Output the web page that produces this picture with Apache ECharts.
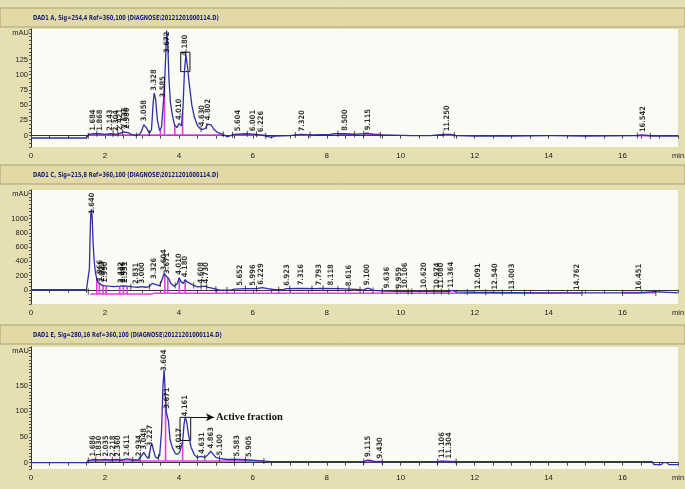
<!DOCTYPE html>
<html>
<head>
<meta charset="utf-8">
<script src="https://cdn.jsdelivr.net/npm/echarts@6/dist/echarts.min.js"></script>
<style>
html, body { margin: 0; padding: 0; background: #e6dfb2; }
#main { width: 685px; height: 489px; }
</style>
</head>
<body>
<div id="main"></div>
<script>
// chromatogram traces, [time (min), signal (mAU)]
var traceA = [[0,-4],[1.5,-4],[1.53,-5],[1.56,2],[1.7,3],[1.85,3],[2.0,2],[2.15,3],[2.3,2],[2.42,4],[2.5,6],[2.55,7],[2.62,5],[2.72,2],[2.85,0],[2.95,3],[3.0,9],[3.05,18],[3.08,20],[3.13,12],[3.2,4],[3.26,10],[3.3,50],[3.33,70],[3.37,60],[3.42,25],[3.48,8],[3.53,14],[3.57,45],[3.6,70],[3.63,110],[3.67,172],[3.7,150],[3.73,95],[3.77,55],[3.82,35],[3.88,18],[3.95,13],[4.0,20],[4.03,22],[4.07,16],[4.11,45],[4.15,105],[4.19,133],[4.23,115],[4.28,85],[4.35,50],[4.42,30],[4.5,17],[4.58,11],[4.65,10],[4.72,12],[4.78,19],[4.83,22],[4.88,17],[4.95,10],[5.05,5],[5.2,2],[5.3,-2],[5.5,2],[5.8,3],[6.1,2],[6.3,0],[6.5,-3],[6.6,-1],[7.0,0],[7.3,2],[7.6,1],[8.1,2],[8.2,3],[8.5,3],[8.7,2],[9.0,3],[9.1,4],[9.3,1],[9.5,1],[10.3,0],[10.8,0],[11.0,1],[11.2,2],[11.35,2],[11.5,0],[12.0,-1],[13.0,-1],[14.0,0],[14.1,0],[15.0,-1],[16.4,0],[16.5,1],[16.7,0],[16.8,-1],[17.5,-1]];
var traceC = [[0,0],[1.5,0],[1.55,-25],[1.58,300],[1.6,800],[1.62,1100],[1.64,1130],[1.66,950],[1.68,650],[1.71,400],[1.74,250],[1.78,150],[1.82,100],[1.87,75],[1.93,60],[2.0,55],[2.1,50],[2.25,45],[2.4,50],[2.5,55],[2.6,50],[2.75,40],[2.9,35],[3.0,45],[3.1,35],[3.2,45],[3.28,90],[3.33,110],[3.4,70],[3.48,55],[3.55,150],[3.6,230],[3.64,200],[3.68,175],[3.72,160],[3.78,90],[3.87,50],[3.95,80],[4.01,170],[4.06,110],[4.12,90],[4.17,140],[4.22,110],[4.3,90],[4.4,60],[4.5,40],[4.6,45],[4.7,50],[4.8,35],[4.95,15],[5.1,-5],[5.4,-5],[5.5,10],[5.8,15],[6.1,15],[6.25,30],[6.4,15],[6.6,0],[6.8,0],[6.9,15],[7.3,20],[7.7,15],[7.85,20],[8.3,15],[8.8,5],[9.0,-5],[9.08,20],[9.15,20],[9.25,-10],[9.6,-20],[10.2,-25],[10.5,-20],[11.0,-25],[11.3,-25],[11.4,-10],[11.5,-30],[12.0,-35],[13.0,-40],[14.0,-45],[15.0,-45],[16.0,-45],[16.5,-45],[16.55,-25],[16.85,-25],[16.9,-45],[17.5,-45]];
var traceE = [[0,0],[1.5,0],[1.55,4],[1.7,6],[1.85,5],[2.0,6],[2.15,5],[2.3,6],[2.45,5],[2.6,7],[2.75,5],[2.9,5],[2.95,7],[3.0,14],[3.05,20],[3.1,14],[3.16,8],[3.2,14],[3.24,32],[3.27,37],[3.31,25],[3.36,12],[3.42,8],[3.48,14],[3.53,60],[3.57,150],[3.6,180],[3.63,140],[3.66,98],[3.69,100],[3.72,80],[3.76,45],[3.82,30],[3.9,18],[3.96,16],[4.02,20],[4.06,18],[4.1,40],[4.14,75],[4.17,88],[4.21,80],[4.26,55],[4.33,30],[4.42,15],[4.5,10],[4.6,12],[4.7,10],[4.78,15],[4.86,22],[4.92,17],[5.0,10],[5.1,8],[5.3,6],[5.6,6],[5.9,5],[6.3,3],[6.5,2],[8.0,2],[9.0,2],[9.1,5],[9.2,4],[9.3,2],[11.0,2],[11.1,3],[11.4,2],[16.8,2],[16.85,-4],[17.05,-4],[17.1,0],[17.2,0],[17.25,-4],[17.5,-4]];

// integrated peaks (retention times)
var peaksA = ['1.684','1.868','2.143','2.304','2.421','2.536','2.586','3.058','3.328','3.585','3.672','4.010','4.180','4.630','4.802','5.604','6.001','6.226','7.320','8.500','9.115','11.250','16.542'];
var peaksC = ['1.640','1.866','1.923','1.990','2.432','2.496','2.551','2.831','3.000','3.326','3.604','3.671','4.010','4.180','4.608','4.730','5.652','5.996','6.229','6.923','7.316','7.793','8.118','8.616','9.100','9.636','9.959','10.106','10.620','10.974','11.080','11.364','12.091','12.540','13.003','14.762','16.451'];
var peaksE = ['1.686','1.830','2.035','2.218','2.360','2.611','2.934','3.048','3.227','3.604','3.671','4.017','4.161','4.631','4.863','5.100','5.583','5.905','9.115','9.430','11.106','11.304'];

// integration baselines [start, end, level], drop lines and peak delimiters (times)
var baseA = [[1.55,5.15,1],[5.45,6.35,1],[7.15,7.55,1],[8.3,8.75,2],[9.0,9.45,2],[11.15,11.45,1],[16.4,16.75,0]];
var dropsA = [3.5,3.61,3.89,4.1];
var delimsA = [1.55,1.78,2.22,2.35,2.48,2.85,3.2,4.6,4.75,5.2,5.45,5.85,6.1,6.35,7.15,7.55,8.3,8.75,9.0,9.45,11.15,11.45,16.4,16.75];
var baseC = [[1.6,3.3,-60],[3.3,14.1,-50],[14.1,14.9,-45],[16.0,16.9,-40]];
var dropsC = [1.78,1.85,1.95,2.03,2.4,2.5,2.6,3.62,3.7,4.01,4.17];
var delimsC = [1.55,2.7,3.2,3.5,3.9,4.4,4.6,4.75,5.0,5.3,5.8,6.1,6.7,7.0,7.6,7.9,8.3,8.6,8.9,9.25,9.5,9.9,10.2,10.3,10.7,10.9,11.1,11.3,11.8,12.3,12.75,13.35,14.9,16.0,16.9];
var baseE = [[1.55,6.3,3],[9.0,9.5,2],[11.0,11.5,2]];
var dropsE = [3.64,4.1];
var delimsE = [1.55,1.75,2.2,2.4,2.75,2.95,3.2,3.45,4.5,4.7,5.1,5.5,5.8,6.3,9.0,9.5,11.0,11.5];

// selected fraction boxes [t1, v1, t2, v2]
var boxA = [4.05, 105, 4.30, 137];
var boxE = [4.03, 43, 4.32, 88];

var titles = [
  'DAD1 A, Sig=254,4 Ref=360,100 (DIAGNOSE\\20121201000114.D)',
  'DAD1 C, Sig=215,8 Ref=360,100 (DIAGNOSE\\20121201000114.D)',
  'DAD1 E, Sig=280,16 Ref=360,100 (DIAGNOSE\\20121201000114.D)'
];

function curveAt(trace, t) {
  for (var i = 1; i < trace.length; i++) {
    if (trace[i][0] >= t) {
      var a = trace[i - 1], b = trace[i];
      return a[1] + (b[1] - a[1]) * (t - a[0]) / (b[0] - a[0]);
    }
  }
  return trace[trace.length - 1][1];
}

var panels = [
  { trace: traceA, peaks: peaksA, base: baseA, drops: dropsA, delims: delimsA, min: -18.75, max: 175, interval: 6.25, step: 25, labelMax: 125, top: 29, height: 118, box: boxA },
  { trace: traceC, peaks: peaksC, base: baseC, drops: dropsC, delims: delimsC, min: -200, max: 1400, interval: 50, step: 200, labelMax: 1000, top: 190, height: 114 },
  { trace: traceE, peaks: peaksE, base: baseE, drops: dropsE, delims: delimsE, min: -12.5, max: 225, interval: 6.25, step: 50, labelMax: 150, top: 347, height: 122, box: boxE }
];

var myChart = echarts.init(document.getElementById('main'));

var grids = [], xAxes = [], yAxes = [], series = [], graphics = [];
var headerTops = [8, 165, 325];

panels.forEach(function (p, k) {
  grids.push({ left: 31, right: 7, top: p.top, height: p.height, show: true, backgroundColor: '#fbfbf6', borderWidth: 0 });
  xAxes.push({
    type: 'value', gridIndex: k, min: 0, max: 17.5, interval: 0.5,
    axisLine: { lineStyle: { color: '#333', width: 1 } },
    axisTick: { length: 3, lineStyle: { color: '#444' } },
    splitLine: { show: false },
    axisLabel: {
      fontSize: 8, color: '#222', fontFamily: 'Liberation Sans', margin: 5,
      formatter: function (v) { return (v % 2 === 0 && v <= 16) ? String(v) : ''; }
    }
  });
  yAxes.push({
    type: 'value', gridIndex: k, min: p.min, max: p.max, interval: p.interval,
    axisLine: { show: true, lineStyle: { color: '#333', width: 1 } },
    axisTick: { show: true, length: 2, lineStyle: { color: '#555' } },
    splitLine: { show: false },
    axisLabel: {
      fontSize: 7.5, color: '#222', fontFamily: 'Liberation Sans', margin: 3,
      formatter: function (v) { return (v >= 0 && v <= p.labelMax && v % p.step === 0) ? String(v) : ''; }
    }
  });

  // baselines (magenta)
  var baseData = [];
  p.base.forEach(function (b) { baseData.push([b[0], b[2]], [b[1], b[2]], ['-', '-']); });
  p.drops.forEach(function (t) {
    var lvl = 0;
    p.base.forEach(function (b) { if (t >= b[0] && t <= b[1]) lvl = b[2]; });
    baseData.push([t, lvl], [t, curveAt(p.trace, t)], ['-', '-']);
  });
  series.push({
    type: 'line', xAxisIndex: k, yAxisIndex: k, data: baseData, showSymbol: false,
    connectNulls: false, silent: true, animation: false,
    lineStyle: { color: '#e040e0', width: 1.6 }, z: 2
  });

  // signal
  var s = {
    type: 'line', xAxisIndex: k, yAxisIndex: k, data: p.trace, showSymbol: false,
    silent: true, animation: false,
    lineStyle: { color: '#2e2ea6', width: 1.3 }, z: 3
  };
  if (p.box) {
    s.markArea = {
      silent: true,
      itemStyle: { color: 'rgba(0,0,0,0)', borderColor: '#111', borderWidth: 1 },
      data: [[{ coord: [p.box[0], p.box[3]] }, { coord: [p.box[2], p.box[1]] }]]
    };
  }
  if (k === 2) {
    s.markLine = {
      silent: true, symbol: ['none', 'arrow'], symbolSize: [6, 8],
      lineStyle: { color: '#111', width: 1, type: 'solid' },
      label: { show: true, position: 'end', formatter: 'Active fraction', color: '#111',
        fontFamily: 'Liberation Serif', fontWeight: 'bold', fontSize: 10.5, distance: 2 },
      data: [[{ coord: [p.box[2], p.box[3]] }, { coord: [4.95, p.box[3]] }]]
    };
  }
  series.push(s);

  // peak delimiter ticks
  series.push({
    type: 'scatter', xAxisIndex: k, yAxisIndex: k, silent: true, animation: false, z: 4,
    symbol: 'rect', symbolSize: [1, 6], itemStyle: { color: '#222' },
    data: p.delims.map(function (t) { return [t, curveAt(p.trace, t)]; })
  });

  // peak retention time labels
  var pxPerUnit = p.height / (p.max - p.min);
  var labelLen = 24 / pxPerUnit;
  var labelData = p.peaks.map(function (name) {
    var t = parseFloat(name);
    var v = Math.min(curveAt(p.trace, t) + 3 / pxPerUnit, p.max - labelLen);
    return { value: [t, v], name: name };
  });
  series.push({
    type: 'scatter', xAxisIndex: k, yAxisIndex: k, data: labelData, symbolSize: 0,
    silent: true, animation: false, z: 5,
    label: {
      show: true, position: 'top', distance: 0, rotate: 90, align: 'left', verticalAlign: 'middle',
      formatter: '{b}', fontSize: 7.5, fontWeight: 'bold', color: '#000', fontFamily: 'DejaVu Sans Condensed'
    }
  });

  // header bar
  var ht = headerTops[k];
  graphics.push({ type: 'rect', shape: { x: 0, y: ht, width: 685, height: 19 }, style: { fill: '#e1d9a6', stroke: '#aaa277', lineWidth: 1 }, silent: true, z: -1 });
  graphics.push({ type: 'text', x: 33, y: ht + 10, scaleX: 0.8, style: { text: titles[k], fill: '#1c237a', font: 'bold 7px "DejaVu Sans Condensed"', verticalAlign: 'middle' }, silent: true });
  graphics.push({ type: 'text', x: 29, y: p.top + 4, style: { text: 'mAU', fill: '#222', font: '7.5px "Liberation Sans"', align: 'right', verticalAlign: 'middle' }, silent: true });
  graphics.push({ type: 'text', x: 672, y: p.top + p.height + 9, style: { text: 'min', fill: '#222', font: '7.5px "Liberation Sans"', align: 'left', verticalAlign: 'middle' }, silent: true });
});

var option = {
  backgroundColor: '#e6dfb2',
  animation: false,
  grid: grids,
  xAxis: xAxes,
  yAxis: yAxes,
  series: series,
  graphic: graphics
};

myChart.setOption(option);
</script>
</body>
</html>
